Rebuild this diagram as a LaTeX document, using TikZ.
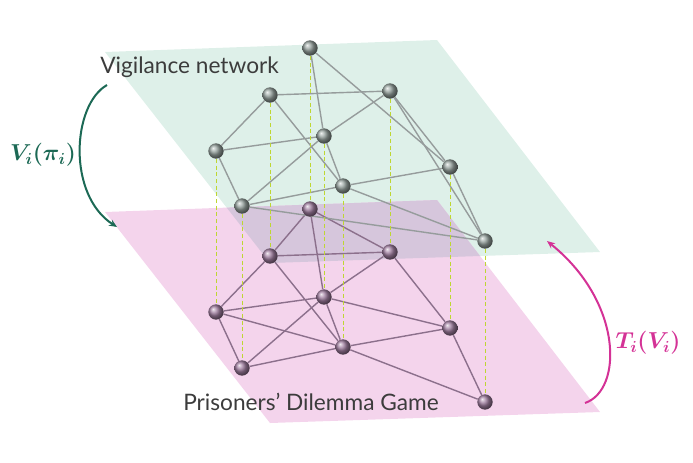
\documentclass[tikz,border=0pt]{standalone}
\usepackage{fontspec}
\setmainfont{Lato}
\usepackage{bm}
\usetikzlibrary{arrows.meta}
\definecolor{greenplane}{RGB}{222,240,233}
\definecolor{pinkplane}{RGB}{244,212,236}
\definecolor{overlapc}{RGB}{214,198,220}
\definecolor{topedgec}{RGB}{150,156,156}
\definecolor{botedgec}{RGB}{140,112,140}
\definecolor{dashc}{RGB}{190,215,50}
\definecolor{tealc}{RGB}{28,105,85}
\definecolor{magc}{RGB}{212,50,150}
\definecolor{textgray}{RGB}{60,60,60}
\definecolor{topball}{RGB}{150,162,158}
\definecolor{botball}{RGB}{160,126,160}
\pgfdeclarelayer{planes}
\pgfdeclarelayer{edges}
\pgfdeclarelayer{dashes}
\pgfsetlayers{planes,edges,dashes,main}
\tikzset{
  topnode/.style={circle,inner sep=0pt,minimum size=11.5pt,ball color=topball},
  botnode/.style={circle,inner sep=0pt,minimum size=11.5pt,ball color=botball},
  topedge/.style={draw=topedgec,line width=1.05pt},
  botedge/.style={draw=botedgec,line width=1.05pt},
  vdash/.style={draw=dashc,line width=0.75pt,dash pattern=on 3pt off 2pt},
  lbl/.style={text=textgray,inner sep=0pt,font=\fontsize{17}{20}\selectfont},
  mlbl/.style={inner sep=0pt,font=\fontsize{16.5}{20}\selectfont},
  curvarrow/.style={line width=1.5pt,-{Stealth[length=6pt,width=5pt]}}
}
\begin{document}
\begin{tikzpicture}[x=0.75pt,y=-0.75pt]
\useasboundingbox (0,0) rectangle (693,462);
\begin{pgfonlayer}{planes}
\fill[greenplane] (105,52) -- (437,40) -- (600,252) -- (270,263) -- cycle;
\fill[pinkplane] (105,212) -- (437,200) -- (600,412) -- (270,423) -- cycle;
\begin{scope}
\clip (105,52) -- (437,40) -- (600,252) -- (270,263) -- cycle;
\fill[overlapc] (105,212) -- (437,200) -- (600,412) -- (270,423) -- cycle;
\end{scope}
\end{pgfonlayer}
% bottom layer nodes
\node[botnode] (b1) at (310,209) {};
\node[botnode] (b2) at (270,256) {};
\node[botnode] (b3) at (390,252) {};
\node[botnode] (b4) at (324,297) {};
\node[botnode] (b5) at (216,312) {};
\node[botnode] (b6) at (450,328) {};
\node[botnode] (b7) at (343,347) {};
\node[botnode] (b8) at (242,368) {};
\node[botnode] (b9) at (485,402) {};
% top layer nodes
\node[topnode] (t1) at (310,48) {};
\node[topnode] (t2) at (270,95) {};
\node[topnode] (t3) at (390,91) {};
\node[topnode] (t4) at (324,136) {};
\node[topnode] (t5) at (216,151) {};
\node[topnode] (t6) at (450,167) {};
\node[topnode] (t7) at (343,186) {};
\node[topnode] (t8) at (242,206) {};
\node[topnode] (t9) at (485,241) {};
\begin{pgfonlayer}{edges}
\foreach \a/\b in {1/2,1/4,1/3,2/3,2/5,2/7,3/4,3/6,4/5,4/8,4/7,4/6,5/8,5/7,8/7,7/6,7/9,6/9}
  \path[botedge] (b\a) -- (b\b);
\foreach \a/\b in {1/4,1/6,2/3,2/5,2/7,3/4,3/6,3/9,4/5,4/8,4/7,5/8,8/7,8/9,7/6,7/9,6/9}
  \path[topedge] (t\a) -- (t\b);
\end{pgfonlayer}
\begin{pgfonlayer}{dashes}
\foreach \k in {1,...,9}
  \path[vdash] (t\k) -- (b\k);
\end{pgfonlayer}
% labels
\node[lbl,anchor=base west] (vn) at (100,73) {Vigilance network};
\node[lbl,anchor=base west] (pd) at (183,410) {Prisoners’ Dilemma Game};
\node[mlbl,text=tealc] (vl) at (43,155) {$\bm{V_i(\pi_i)}$};
\node[mlbl,text=magc] (tl) at (648,343) {$\bm{T_i(V_i)}$};
% curved arrows
\coordinate (la) at (107,85);
\coordinate (lb) at (117,227);
\coordinate (ra) at (585,403);
\coordinate (rb) at (547,241);
\draw[curvarrow,draw=tealc] (la) .. controls (72,105) and (67,195) .. (lb);
\draw[curvarrow,draw=magc] (ra) .. controls (623,390) and (623,302) .. (rb);
\end{tikzpicture}
\end{document}
